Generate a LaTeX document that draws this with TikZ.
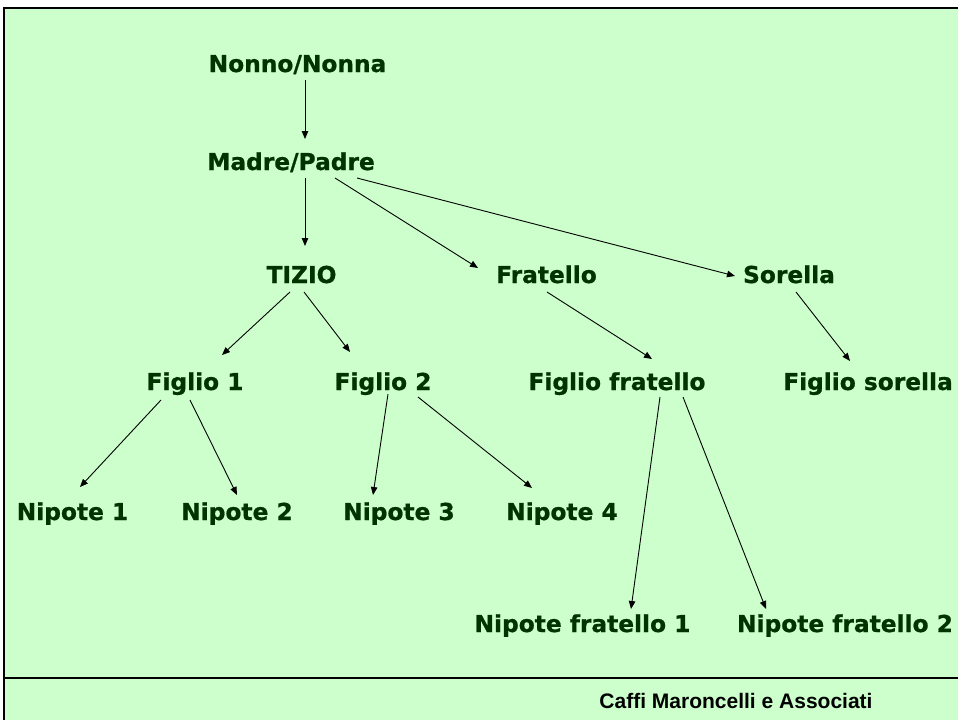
\documentclass[tikz,border=0pt]{standalone}
\usepackage{fontspec}
\setmainfont{DejaVu Sans}
\newfontfamily\lblfont[FakeBold=0.8]{DejaVu Sans Bold}
\newfontfamily\footfont{Liberation Sans}
\usetikzlibrary{calc,arrows.meta}
\definecolor{bggreen}{HTML}{CCFFCC}
\definecolor{txtgreen}{HTML}{003300}
\tikzset{
  lbl/.style={anchor=base,inner sep=0pt,text=txtgreen,font=\lblfont\fontsize{23.3}{28}\selectfont},
  arr/.style={line width=0.9pt,-{Triangle[length=8pt,width=6.5pt]}}
}
\begin{document}
\begin{tikzpicture}[x=1pt,y=-1pt]
\useasboundingbox (0,0) rectangle (958,720);
\fill[white] (0,0) rectangle (958,720);
\fill[bggreen] (4,8) rectangle (958,720);
\draw[line width=2pt] (4,720) -- (4,8) -- (958,8);
\draw[line width=1.3pt] (4,678) -- (958,678);

\node[lbl] (nonno) at (297.5,72) {Nonno/Nonna};
\node[lbl] (madre) at (291,170) {Madre/Padre};
\node[lbl] (tizio) at (301.5,283) {TIZIO};
\node[lbl] (fratello) at (546.5,283) {Fratello};
\node[lbl] (sorella) at (789,283) {Sorella};
\node[lbl] (f1) at (195,390) {Figlio 1};
\node[lbl] (f2) at (383,390) {Figlio 2};
\node[lbl] (ff) at (617,390) {Figlio fratello};
\node[lbl] (fs) at (868,390) {Figlio sorella};
\node[lbl] (n1) at (72.5,520) {Nipote 1};
\node[lbl] (n2) at (237,520) {Nipote 2};
\node[lbl] (n3) at (399,520) {Nipote 3};
\node[lbl] (n4) at (562,520) {Nipote 4};
\node[lbl] (nf1) at (582.5,632) {Nipote fratello 1};
\node[lbl] (nf2) at (845,632) {Nipote fratello 2};

\node[anchor=base,inner sep=0pt,font=\footfont\fontsize{21}{25}\selectfont\bfseries] (foot) at (736,708) {Caffi Maroncelli e Associati};

\draw[arr] ($(nonno.base)+(7.5,8)$) -- ($(madre.base)+(14,-31)$);
\draw[arr] ($(madre.base)+(14,8)$) -- ($(tizio.base)+(3.5,-37)$);
\draw[arr] ($(madre.base)+(44,8)$) -- ($(fratello.base)+(-68.5,-15)$);
\draw[arr] ($(madre.base)+(66,8)$) -- ($(sorella.base)+(-54,-7)$);
\draw[arr] ($(tizio.base)+(-11.5,9)$) -- ($(f1.base)+(27,-35)$);
\draw[arr] ($(tizio.base)+(2.5,9)$) -- ($(f2.base)+(-33,-38)$);
\draw[arr] ($(fratello.base)+(0.5,9)$) -- ($(ff.base)+(35,-31)$);
\draw[arr] ($(sorella.base)+(7,9)$) -- ($(fs.base)+(-18,-29)$);
\draw[arr] ($(f1.base)+(-34,10)$) -- ($(n1.base)+(7.5,-33)$);
\draw[arr] ($(f1.base)+(-5,10)$) -- ($(n2.base)+(0,-25)$);
\draw[arr] ($(f2.base)+(5,4)$) -- ($(n3.base)+(-26,-25)$);
\draw[arr] ($(f2.base)+(35,7)$) -- ($(n4.base)+(-30,-32)$);
\draw[arr] ($(ff.base)+(43,7)$) -- ($(nf1.base)+(48.5,-23)$);
\draw[arr] ($(ff.base)+(66,7)$) -- ($(nf2.base)+(-79,-23)$);
\end{tikzpicture}
\end{document}
